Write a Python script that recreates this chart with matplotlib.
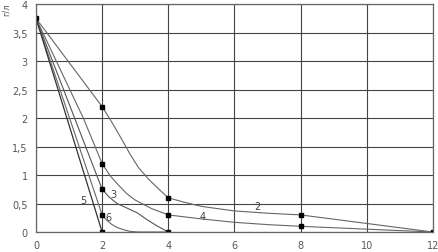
import matplotlib
matplotlib.use("Agg")
import matplotlib.pyplot as plt
from matplotlib.ticker import FuncFormatter

# curves (time, concentration)
x2 = [0, 2, 2.3, 2.6, 2.85, 3.1, 3.4, 3.7, 4, 4.5, 5, 6, 7, 8, 10, 12]
y2 = [3.75, 2.2, 1.92, 1.62, 1.36, 1.13, 0.93, 0.76, 0.6, 0.52, 0.45, 0.37, 0.33, 0.3, 0.15, 0]
x4 = [0, 1.43, 2, 2.25, 2.5, 2.75, 3, 3.5, 4, 5, 6, 7, 8, 10, 12]
y4 = [3.75, 2.0, 1.2, 0.98, 0.82, 0.67, 0.56, 0.41, 0.3, 0.23, 0.17, 0.13, 0.1, 0.05, 0]
x3 = [0, 2, 2.2, 2.45, 2.75, 3.05, 3.35, 3.65, 4]
y3 = [3.75, 0.75, 0.62, 0.5, 0.42, 0.34, 0.22, 0.11, 0]
x6 = [0, 2, 2.15, 2.3, 2.45, 2.65, 2.85, 3.1, 4]
y6 = [3.75, 0.3, 0.2, 0.13, 0.08, 0.04, 0.01, 0, 0]
x5 = [0, 2]
y5 = [3.75, 0]

# measured points (square markers)
mx = [0, 2, 2, 2, 2, 2, 4, 4, 4, 8, 8, 12]
my = [3.75, 2.2, 1.2, 0.75, 0.3, 0, 0.6, 0.3, 0, 0.3, 0.1, 0]

labels = ["2", "4", "3", "6", "5"]
label_x = [6.7, 5.05, 2.35, 2.2, 1.42]
label_y = [0.46, 0.28, 0.66, 0.27, 0.56]

fig = plt.figure(figsize=(4.39, 2.53), dpi=100)
ax = fig.add_axes([0.082, 0.079, 0.904, 0.901])

ax.plot(x2, y2, color="#666666", lw=0.8)
ax.plot(x4, y4, color="#666666", lw=0.8)
ax.plot(x3, y3, color="#555555", lw=0.8)
ax.plot(x6, y6, color="#666666", lw=0.8)
ax.plot(x5, y5, color="#333333", lw=0.9)
ax.plot(mx, my, ls="none", marker="s", ms=3.2, color="black")

for t, lx, ly in zip(labels, label_x, label_y):
    ax.text(lx, ly, t, fontsize=7, color="#444444", ha="center", va="center")

ax.set_xlim(0, 12)
ax.set_ylim(0, 4)
ax.set_xticks(range(0, 13, 2))
ax.set_yticks([0, 0.5, 1, 1.5, 2, 2.5, 3, 3.5, 4])
ax.yaxis.set_major_formatter(FuncFormatter(lambda v, p: ("%g" % v).replace(".", ",")))
ax.grid(True, color="#444444", lw=0.8)
ax.set_axisbelow(True)
ax.tick_params(length=0, labelsize=7, labelcolor="#555555", pad=6)
for s in ax.spines.values():
    s.set_color("#666666")
    s.set_linewidth(0.9)

fig.text(0.005, 0.985, "г/л", rotation=90, fontsize=6, color="#555555",
         ha="left", va="top")

fig.savefig("out.png", dpi=100)
